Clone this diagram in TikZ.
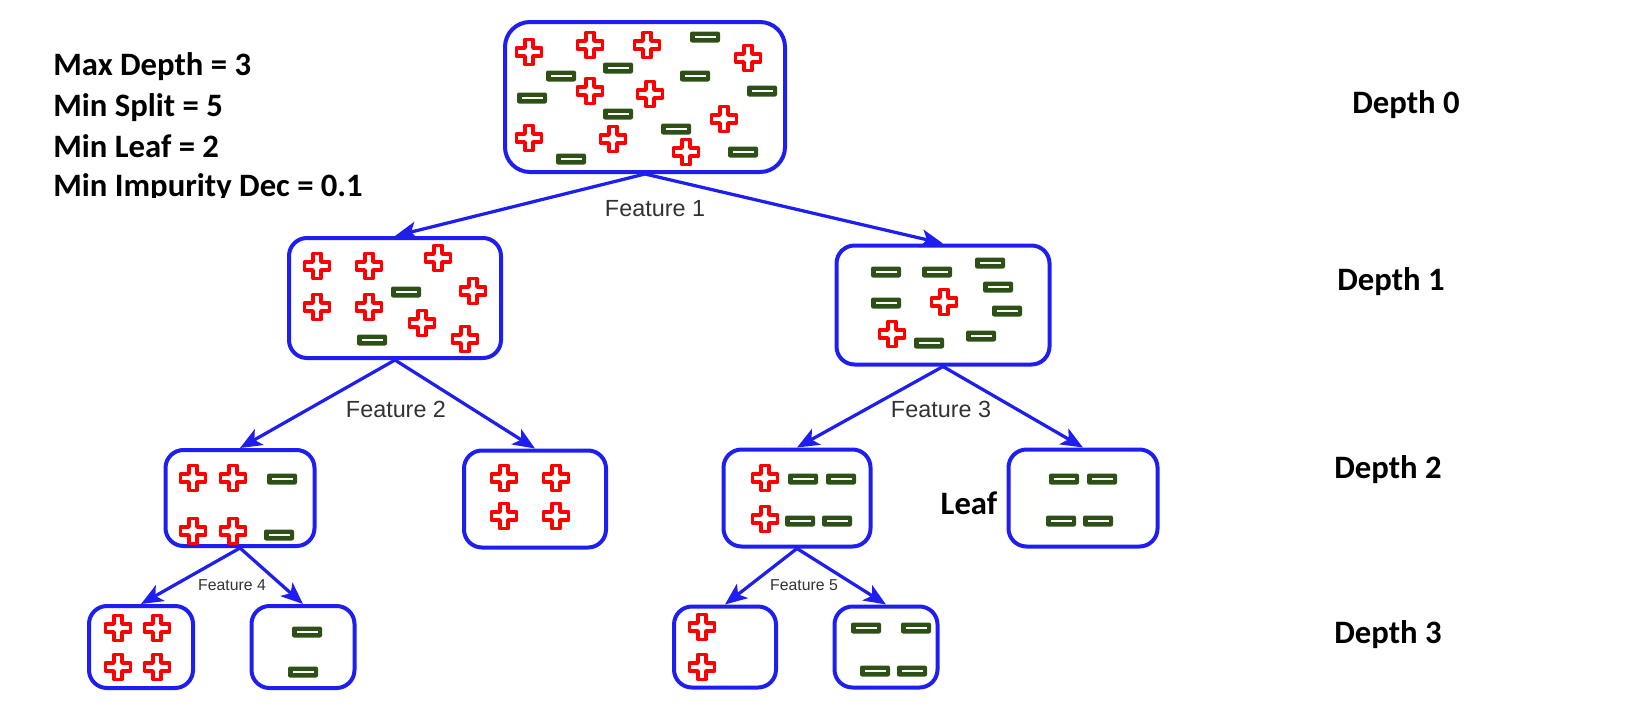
\documentclass[tikz,border=0pt]{standalone}
\usepackage{fontspec}
\setmainfont{Carlito}
\newfontfamily\featurefont{Liberation Sans}
\usetikzlibrary{positioning}
\usetikzlibrary{arrows.meta}

\definecolor{boxblue}{RGB}{30,30,240}
\definecolor{plusred}{RGB}{255,0,0}
\definecolor{minusgreen}{RGB}{45,80,22}
\definecolor{featgray}{RGB}{50,50,50}

\begin{document}
\begin{tikzpicture}[x=0.2mm, y=-0.2mm,
    box/.style={draw=boxblue, line width=0.8mm, rounded corners=3.6mm, inner sep=0pt},
    arr/.style={draw=boxblue, line width=0.65mm, -{Stealth[length=4.4mm, width=3.6mm, inset=1.1mm]}},
    feat/.style={font=\featurefont\fontsize{13.3}{16}\selectfont, text=featgray},
    featsmall/.style={font=\featurefont\fontsize{9}{11}\selectfont, text=featgray},
    bigtext/.style={font=\bfseries\fontsize{18.6}{22}\selectfont},
    plussign/.pic={\draw[plusred, line width=0.75mm, fill=white, line join=round]
        (-4,-12.5) -- (4,-12.5) -- (4,-4) -- (12.5,-4) -- (12.5,4) -- (4,4) -- (4,12.5)
        -- (-4,12.5) -- (-4,4) -- (-12.5,4) -- (-12.5,-4) -- (-4,-4) -- cycle;},
    minussign/.pic={\fill[minusgreen, rounded corners=0.4mm] (-15,-5.5) rectangle (15,5.5);
        \fill[white] (-10.5,-1.4) rectangle (10.5,1.4);}
    ]
    \useasboundingbox (0,0) rectangle (1636,718);

    % Define the boxes of the tree
    \node[box, rounded corners=5mm, minimum width=56mm, minimum height=30mm] (root) at (645,97) {};

    \node[box, minimum width=42.4mm, minimum height=24mm] (left) at (395,298) {};
    \node[box, minimum width=42.6mm, minimum height=23.8mm] (right) at (943,305) {};

    \node[box, minimum width=29.8mm, minimum height=19.2mm] (ll) at (240,498) {};
    \node[box, minimum width=28.4mm, minimum height=19.4mm] (lr) at (535,499) {};
    \node[box, minimum width=29.4mm, minimum height=19.4mm] (rl) at (797,498) {};
    \node[box, minimum width=29.8mm, minimum height=19.4mm] (rr) at (1083,498) {};

    \node[box, minimum width=20.8mm, minimum height=16.4mm] (lll) at (141,647) {};
    \node[box, minimum width=20.6mm, minimum height=16.4mm] (llr) at (303,647) {};
    \node[box, minimum width=20.4mm, minimum height=16.2mm] (rll) at (725,647) {};
    \node[box, minimum width=20.6mm, minimum height=16.2mm] (rlr) at (886,647) {};

    % Draw the splits
    \draw[arr] (root.south) -- (left.north);
    \draw[arr] (root.south) -- (right.north);
    \draw[arr] (left.south) -- (ll.north);
    \draw[arr] (left.south) -- (lr.north);
    \draw[arr] (right.south) -- (rl.north);
    \draw[arr] (right.south) -- (rr.north);
    \draw[arr] (ll.south) -- (lll.north);
    \draw[arr] (ll.south) -- (llr.north);
    \draw[arr] (rl.south) -- (rll.north);
    \draw[arr] (rl.south) -- (rlr.north);

    \node[feat] (feat1) at (655,209) {Feature 1};
    \node[feat] (feat2) at (396,409) {Feature 2};
    \node[feat] (feat3) at (941,409) {Feature 3};
    \node[featsmall] (feat4) at (232,585) {Feature 4};
    \node[featsmall] (feat5) at (804,585) {Feature 5};

    % Plus samples
    \foreach \x/\y in {529/52, 590/45, 647/45, 748/58, 590/91, 650/94, 724/119, 529/138, 613/139, 686/152,
                       317/266, 369/266, 438/258, 473/291, 317/307, 369/307, 422/323, 465/339,
                       944/302, 892/334,
                       193/478, 233/478, 193/531, 233/531,
                       504/478, 556/478, 504/516, 556/516,
                       765/478, 765/519,
                       118/628, 157/628, 118/667, 157/667,
                       702/627, 702/667}
    \pic at (\x,\y) {plussign};

    % Minus samples
    \foreach \x/\y in {705/37, 561/76, 618/68, 695/76, 532/98, 762/91, 618/114, 676/129, 571/159, 743/152,
                       406/292, 372/340,
                       886/272, 937/272, 990/263, 998/287, 886/303, 1007/311, 981/336, 929/343,
                       282/479, 279/535,
                       803/479, 841/479, 800/521, 837/521,
                       1064/479, 1102/479, 1061/521, 1098/521,
                       307/632, 303/672,
                       866/628, 916/628, 875/671, 912/671}
    \pic at (\x,\y) {minussign};

    % Parameters, cut off at the bottom
    \begin{scope}
        \clip (0,0) rectangle (480,197);
        \foreach \name/\y/\txt in {maxdepth/75/Max Depth = 3, minsplit/116/Min Split = 5,
                                   minleaf/157/Min Leaf = 2, minimp/196/Min Impurity Dec = 0.1}
        \node[bigtext, anchor=base west, inner sep=0pt] (\name) at (53,\y) {\txt};
    \end{scope}

    \node[bigtext] (leaf) at (969,503) {Leaf};

    \node[bigtext] (depth0) at (1406,105) {Depth 0};
    \node[bigtext] (depth1) at (1391,282) {Depth 1};
    \node[bigtext] (depth2) at (1388,470) {Depth 2};
    \node[bigtext] (depth3) at (1388,635) {Depth 3};
\end{tikzpicture}
\end{document}
